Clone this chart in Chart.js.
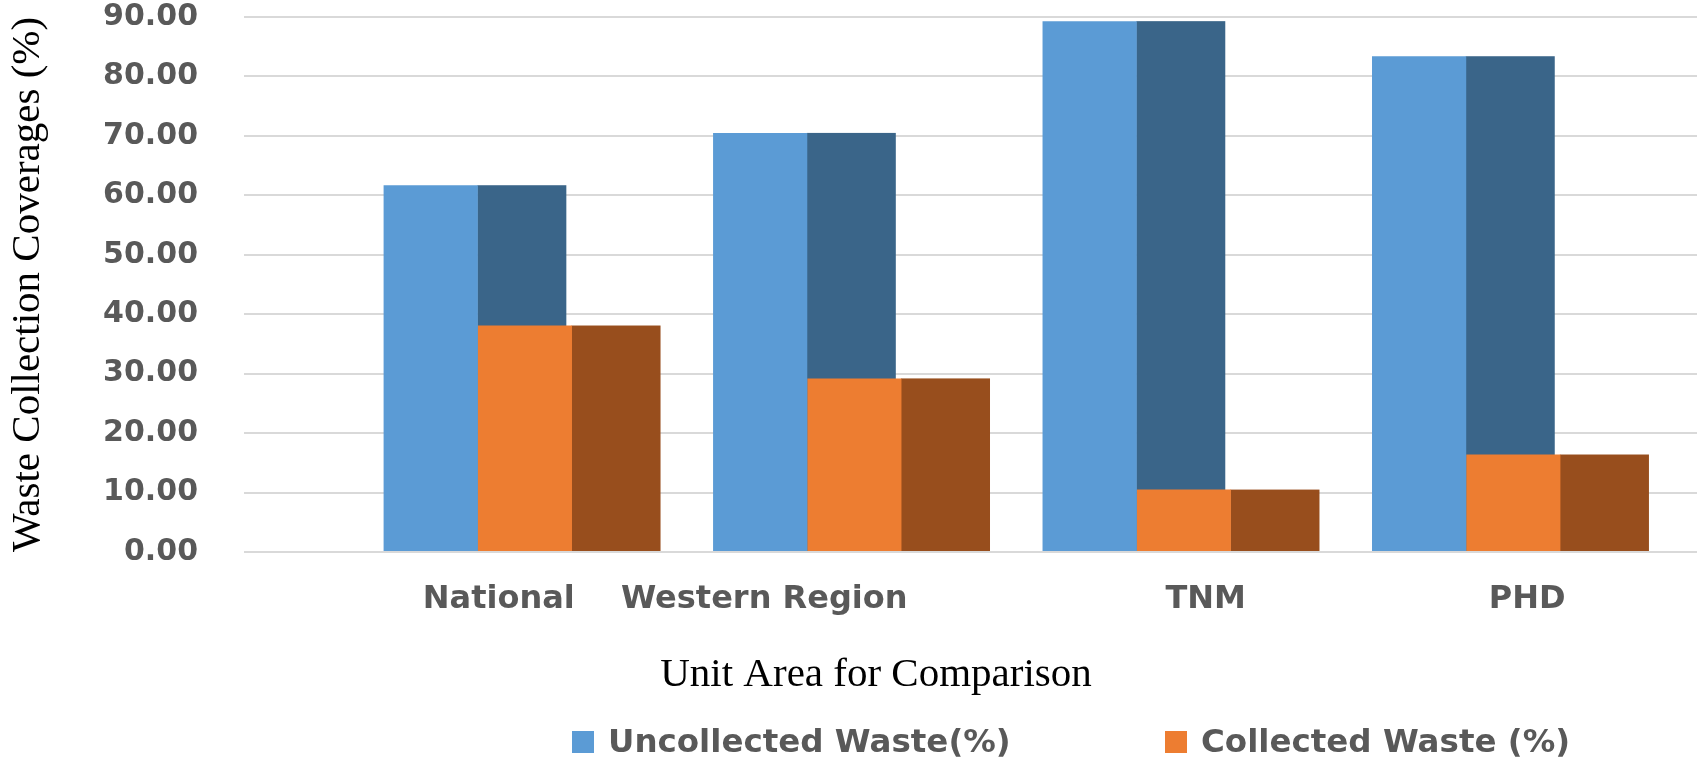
<!DOCTYPE html>
<html>
<head>
<meta charset="utf-8">
<title>Waste Collection Coverages</title>
<script src="https://cdn.jsdelivr.net/npm/chart.js@4.4.1/dist/chart.umd.min.js"></script>
<style>
  html, body { margin: 0; padding: 0; background: #ffffff; }
  #chart { display: block; }
</style>
</head>
<body>
<canvas id="chart" width="1703" height="757"></canvas>
<script>
// ── Data ──────────────────────────────────────────────────────────────────────
const CATEGORIES  = ["National", "Western Region", "TNM", "PHD"];
const UNCOLLECTED = [61.7, 70.5, 89.3, 83.4];
const COLLECTED   = [38.1, 29.2, 10.5, 16.4];
const Y_TICKS     = [0, 10, 20, 30, 40, 50, 60, 70, 80, 90];

const SERIES_NAMES = ["Uncollected Waste(%)", "Collected Waste (%)"];

// ── Style ─────────────────────────────────────────────────────────────────────
const GREY  = "#595959";
const BLUE  = "#5B9BD5", BLUE_SIDE   = "#3A6589";
const ORNG  = "#ED7D31", ORNG_SIDE   = "#984E1D";
const DEPTH = 0.94;                       // side face width, as share of bar width
const LABEL_SHIFT = [21, -43, 69, 61];    // excel-ish label placement under clusters

// dark right-hand faces, drawn before the bars so the next bar covers them
const sideFaces = {
    id: 'sideFaces',
    beforeDatasetsDraw(chart) {
        const ctx = chart.ctx;
        chart.data.datasets.forEach((ds, di) => {
            const meta = chart.getDatasetMeta(di);
            ctx.save();
            ctx.fillStyle = ds.sideColor;
            meta.data.forEach(bar => {
                const { x, y, base, width } = bar.getProps(['x', 'y', 'base', 'width'], true);
                const left = x + width / 2;
                ctx.fillRect(left - 0.5, y, width * DEPTH + 0.5, base - y);
            });
            ctx.restore();
        });
    }
};

// category labels, x title and legend
const annotations = {
    id: 'annotations',
    afterDraw(chart) {
        const ctx = chart.ctx;
        const xs = chart.scales.x;
        ctx.save();

        ctx.fillStyle = GREY;
        ctx.font = 'bold 32px "DejaVu Sans"';
        ctx.textAlign = 'center';
        ctx.textBaseline = 'alphabetic';
        CATEGORIES.forEach((c, i) => {
            ctx.fillText(c, xs.getPixelForValue(i) + LABEL_SHIFT[i], 608);
        });

        ctx.fillStyle = '#000000';
        ctx.font = '41px "Liberation Serif"';
        ctx.fillText('Unit Area for Comparison', 876, 686);

        const legendX = [572, 1165];
        ctx.font = 'bold 32.5px "DejaVu Sans"';
        ctx.textAlign = 'left';
        chart.data.datasets.forEach((ds, i) => {
            ctx.fillStyle = ds.backgroundColor;
            ctx.fillRect(legendX[i], 731, 22, 22);
            ctx.fillStyle = GREY;
            ctx.fillText(ds.label, legendX[i] + 36, 752);
        });

        ctx.restore();
    }
};

new Chart(document.getElementById('chart'), {
    type: 'bar',
    data: {
        datasets: [
            {
                label: SERIES_NAMES[0],
                data: UNCOLLECTED.map((v, i) => ({ x: i, y: v })),
                backgroundColor: BLUE,
                sideColor: BLUE_SIDE,
                borderWidth: 0,
            },
            {
                label: SERIES_NAMES[1],
                data: COLLECTED.map((v, i) => ({ x: i, y: v })),
                backgroundColor: ORNG,
                sideColor: ORNG_SIDE,
                borderWidth: 0,
            },
        ],
    },
    options: {
        responsive: false,
        animation: false,
        categoryPercentage: 0.5718,
        barPercentage: 1.0,
        layout: { padding: { top: 17, right: 6, bottom: 205, left: 0 } },
        plugins: {
            legend: { display: false },
            tooltip: { enabled: false },
        },
        scales: {
            x: {
                type: 'linear',
                display: false,
                offset: false,
                min: -0.7096,
                max: 3.7005,
                ticks: { stepSize: 1, includeBounds: false },
                grid: { display: false },
            },
            y: {
                min: 0,
                max: 90,
                afterBuildTicks: s => { s.ticks = Y_TICKS.map(v => ({ value: v })); },
                afterFit: s => { s.width = 244; },
                border: { display: false },
                // invisible tick marks give the label gap without padding the top
                grid: { color: '#d9d9d9', lineWidth: 2, drawTicks: true, tickLength: 46, tickColor: 'rgba(0,0,0,0)' },
                ticks: {
                    color: GREY,
                    padding: 0,
                    font: { family: '"DejaVu Sans"', weight: 'bold', size: 30, lineHeight: 1.1 },
                    callback: v => Number(v).toFixed(2),
                },
                title: {
                    display: true,
                    text: 'Waste Collection Coverages (%)',
                    color: '#000000',
                    font: { family: '"Liberation Serif"', size: 41 },
                    padding: { top: 4, bottom: 0 },
                },
            },
        },
    },
    plugins: [sideFaces, annotations],
});
</script>
</body>
</html>
